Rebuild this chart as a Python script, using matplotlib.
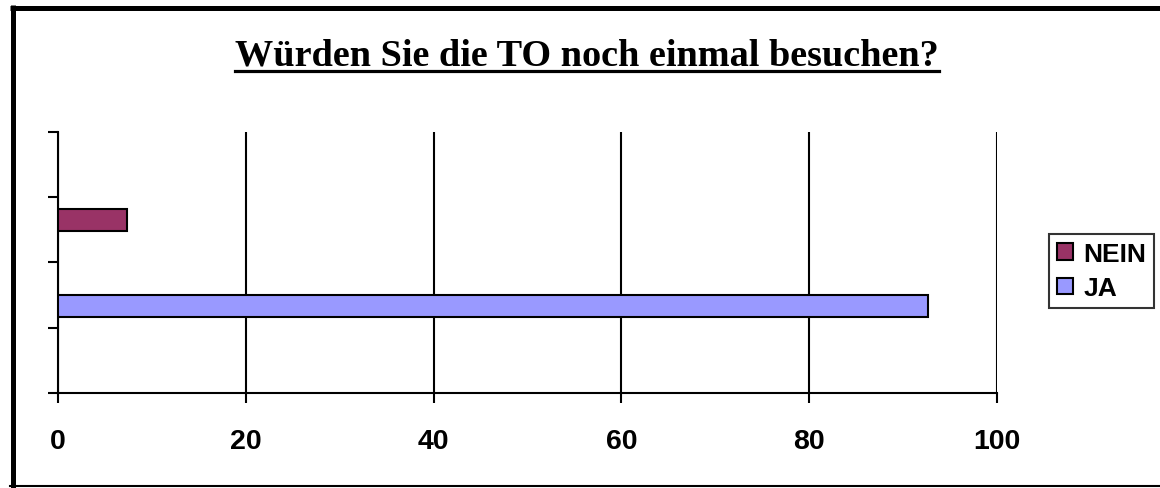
import matplotlib.pyplot as plt
from matplotlib.lines import Line2D
from matplotlib.patches import Patch

title = "Würden Sie die TO noch einmal besuchen?"
series = ["NEIN", "JA"]
values = [7.4, 92.6]
colors = ["#993366", "#9999FF"]
xticks = [0, 20, 40, 60, 80, 100]

fig = plt.figure(figsize=(11.6, 4.89), dpi=100)
ax = fig.add_axes([0.05, 0.1943, 0.8095, 0.5337])

# bar centres in category units (axis runs 0..4)
ypos = [2.65, 1.33]
for name, v, c, y in zip(series, values, colors, ypos):
    ax.barh(y, v, height=0.34, color=c, edgecolor="black", linewidth=1.5, zorder=3)

ax.set_xlim(0, 100)
ax.set_ylim(0, 4)
ax.set_xticks(xticks)
ax.set_yticks([0, 1, 2, 3, 4])
ax.set_yticklabels([])
ax.set_xticklabels([str(t) for t in xticks], fontfamily="Liberation Sans",
                   fontweight="bold", fontsize=20.5)
ax.tick_params(axis="x", direction="out", length=7, width=1.5, pad=18, colors="black")
ax.tick_params(axis="y", direction="out", length=7.5, width=1.5)
ax.grid(axis="x", color="black", linewidth=1.5, zorder=1)
for s in ["top", "right"]:
    ax.spines[s].set_visible(False)
for s in ["left", "bottom"]:
    ax.spines[s].set_linewidth(1.5)

handles = [Patch(facecolor=c, edgecolor="black", linewidth=1.5) for c in colors]
leg = fig.legend(handles, series, loc="center", bbox_to_anchor=(0.9496, 0.4438),
                 bbox_transform=fig.transFigure, frameon=True, fancybox=False,
                 prop={"family": "Liberation Sans", "weight": "bold", "size": 19},
                 handlelength=0.6, handleheight=0.6, handletextpad=0.4,
                 labelspacing=0.4, borderpad=0.3, borderaxespad=0)
leg.get_frame().set_edgecolor("black")
leg.get_frame().set_linewidth(1.5)

t = fig.text(0.506, 0.866, title, ha="center", va="baseline",
             fontfamily="Liberation Serif", fontweight="bold", fontsize=27.5)
fig.canvas.draw()
bb = t.get_window_extent().transformed(fig.transFigure.inverted())
fig.add_artist(Line2D([bb.x0, bb.x1], [0.8535, 0.8535], color="black",
                      linewidth=2.3, transform=fig.transFigure))

# chart frame: heavy top and left, thin bottom
fig.add_artist(Line2D([10 / 1160, 1], [1 - 8.5 / 489, 1 - 8.5 / 489], color="black",
                      linewidth=3.6, transform=fig.transFigure, solid_capstyle="butt"))
fig.add_artist(Line2D([12.5 / 1160, 12.5 / 1160], [0, 1 - 6 / 489], color="black",
                      linewidth=3.6, transform=fig.transFigure, solid_capstyle="butt"))
fig.add_artist(Line2D([10 / 1160, 1], [2 / 489, 2 / 489], color="black",
                      linewidth=1.5, transform=fig.transFigure))

fig.savefig("out.png", dpi=100)
